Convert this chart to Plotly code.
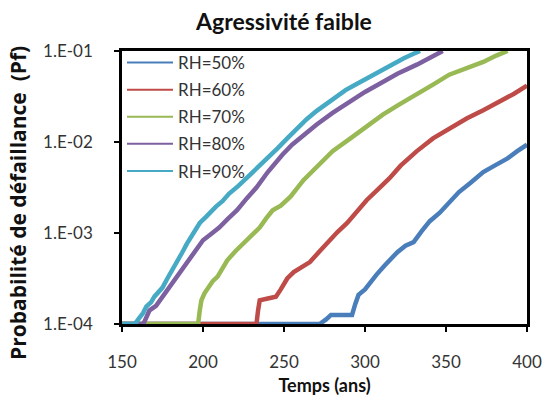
import plotly.graph_objects as go

# ---- data (log10 of Pf; -4 = floor 1.E-04) ----
x_rh90 = [150, 158, 160, 163, 165, 168, 170, 173, 175, 178, 181, 184, 187, 190, 193, 196, 198,
          202, 205, 208, 212, 216, 222, 228, 234, 240, 246, 252, 258, 264, 270, 276, 282,
          288, 294, 300, 306, 312, 318, 324, 330, 334]
lg_rh90 = [-4, -4, -3.95, -3.88, -3.81, -3.76, -3.70, -3.64, -3.60, -3.50, -3.41, -3.33, -3.22,
           -3.12, -3.04, -2.95, -2.89, -2.82, -2.76, -2.71, -2.65, -2.57, -2.48, -2.38, -2.28,
           -2.18, -2.07, -1.96, -1.85, -1.75, -1.66, -1.58, -1.50, -1.43, -1.37, -1.31, -1.25,
           -1.19, -1.13, -1.08, -1.03, -1.0]

x_rh80 = [150, 163, 164, 167, 171, 175, 179, 184, 188, 192, 196, 200, 205, 210, 215, 221, 227,
          233, 240, 245, 249, 255, 262, 270, 280, 290, 300, 311, 320, 332, 340, 348]
lg_rh80 = [-4, -4, -3.97, -3.85, -3.80, -3.70, -3.60, -3.48, -3.37, -3.27, -3.16, -3.08, -3.01,
           -2.94, -2.85, -2.75, -2.62, -2.50, -2.33, -2.22, -2.14, -2.03, -1.92, -1.81, -1.68,
           -1.56, -1.45, -1.34, -1.25, -1.15, -1.07, -1.0]

x_rh70 = [150, 197, 198, 199, 201, 203, 206, 209, 212, 215, 220, 225, 230, 235, 239, 243, 248,
          254, 262, 270, 280, 291, 301, 311, 321, 332, 342, 352, 362, 373, 381, 388]
lg_rh70 = [-4, -4, -3.85, -3.74, -3.66, -3.60, -3.53, -3.48, -3.38, -3.30, -3.20, -3.11, -3.02,
           -2.94, -2.84, -2.75, -2.70, -2.60, -2.42, -2.27, -2.10, -1.96, -1.83, -1.70, -1.59,
           -1.48, -1.37, -1.26, -1.19, -1.12, -1.05, -1.0]

x_rh60 = [150, 233, 234, 235, 240, 245, 248, 252, 256, 261, 266, 272, 278, 283, 289, 295, 301,
          308, 315, 322, 332, 342, 352, 363, 373, 383, 392, 400]
lg_rh60 = [-4, -4, -3.85, -3.74, -3.72, -3.70, -3.62, -3.50, -3.43, -3.38, -3.32, -3.20, -3.08,
           -2.99, -2.89, -2.76, -2.64, -2.52, -2.40, -2.26, -2.10, -1.96, -1.85, -1.74, -1.65,
           -1.56, -1.47, -1.38]

x_rh50 = [150, 272, 276, 279, 285, 292, 294, 296, 300, 304, 307, 312, 316, 320, 325, 330, 335,
          340, 346, 352, 358, 365, 373, 380, 388, 394, 400]
lg_rh50 = [-4, -4, -3.95, -3.90, -3.90, -3.90, -3.78, -3.68, -3.62, -3.52, -3.46, -3.36, -3.28,
           -3.21, -3.14, -3.10, -2.98, -2.87, -2.78, -2.67, -2.55, -2.45, -2.33, -2.26, -2.18,
           -2.10, -2.03]

series_names = ["RH=50%", "RH=60%", "RH=70%", "RH=80%", "RH=90%"]
series_x = [x_rh50, x_rh60, x_rh70, x_rh80, x_rh90]
series_lg = [lg_rh50, lg_rh60, lg_rh70, lg_rh80, lg_rh90]
colors = ["#4a7ebb", "#be4b48", "#98b954", "#7d60a0", "#46aac5"]

y_tickvals = [1e-4, 1e-3, 1e-2, 1e-1]
y_ticktext = ["1.E-04", "1.E-03", "1.E-02", "1.E-01"]
x_tickvals = [150, 200, 250, 300, 350, 400]

FONT = "Lato, 'Open Sans', sans-serif"

fig = go.Figure()
for name, xs, lgs, c in zip(series_names, series_x, series_lg, colors):
    fig.add_trace(go.Scatter(x=xs, y=[10 ** v for v in lgs], mode="lines",
                             line=dict(color=c, width=4.5), showlegend=False,
                             hoverinfo="skip"))
for i, (name, c) in enumerate(zip(series_names, colors)):
    fig.add_trace(go.Scatter(x=[None], y=[None], mode="lines", name=name,
                             line=dict(color=c, width=2), legendgroup=str(i)))

fig.update_layout(
    width=544, height=403,
    margin=dict(l=122, r=17, t=51, b=79, autoexpand=False),
    paper_bgcolor="white", plot_bgcolor="white",
    font=dict(family=FONT, color="#333333"),
    title=dict(text="<b>Agressivité faible</b>", x=284 / 544, xanchor="center",
               y=1 - 22 / 403, yanchor="middle", automargin=False,
               font=dict(family=FONT, size=23, color="#111111")),
    legend=dict(x=0.0, y=1.022, xanchor="left", yanchor="top",
                bgcolor="rgba(0,0,0,0)", font=dict(family=FONT, size=17, color="#333333"),
                tracegroupgap=2, itemwidth=46),
    xaxis=dict(range=[150, 400], tickvals=x_tickvals, ticks="outside", ticklen=5,
               tickwidth=1.5, tickcolor="black", showgrid=False, zeroline=False,
               showline=True, linecolor="black", linewidth=2.5, mirror=True,
               automargin=False,
               ticklabelstandoff=16, tickfont=dict(size=17, color="#333333"),
               title=dict(text="<b>Temps (ans)</b>", standoff=9,
                          font=dict(size=18, color="#111111"))),
    yaxis=dict(type="log", range=[-4, -1], tickvals=y_tickvals, ticktext=y_ticktext,
               ticks="outside", ticklen=5, tickwidth=1.5, tickcolor="black",
               showgrid=False, zeroline=False, showline=True, linecolor="black",
               linewidth=2.5, mirror=True, ticklabelstandoff=18, automargin=False,
               tickfont=dict(size=17, color="#333333")),
    annotations=[dict(text="<b>Probabilité de défaillance  (Pf)</b>", textangle=-90,
                      xref="paper", yref="paper",
                      x=(18 - 122) / 405, y=(324 - 203) / 273,
                      xanchor="center", yanchor="middle", showarrow=False,
                      font=dict(family="'Open Sans', sans-serif", size=21,
                                color="#111111"))],
)

fig.write_html("out.html", config={"displayModeBar": False},
               post_script="document.body.style.margin='0';")
